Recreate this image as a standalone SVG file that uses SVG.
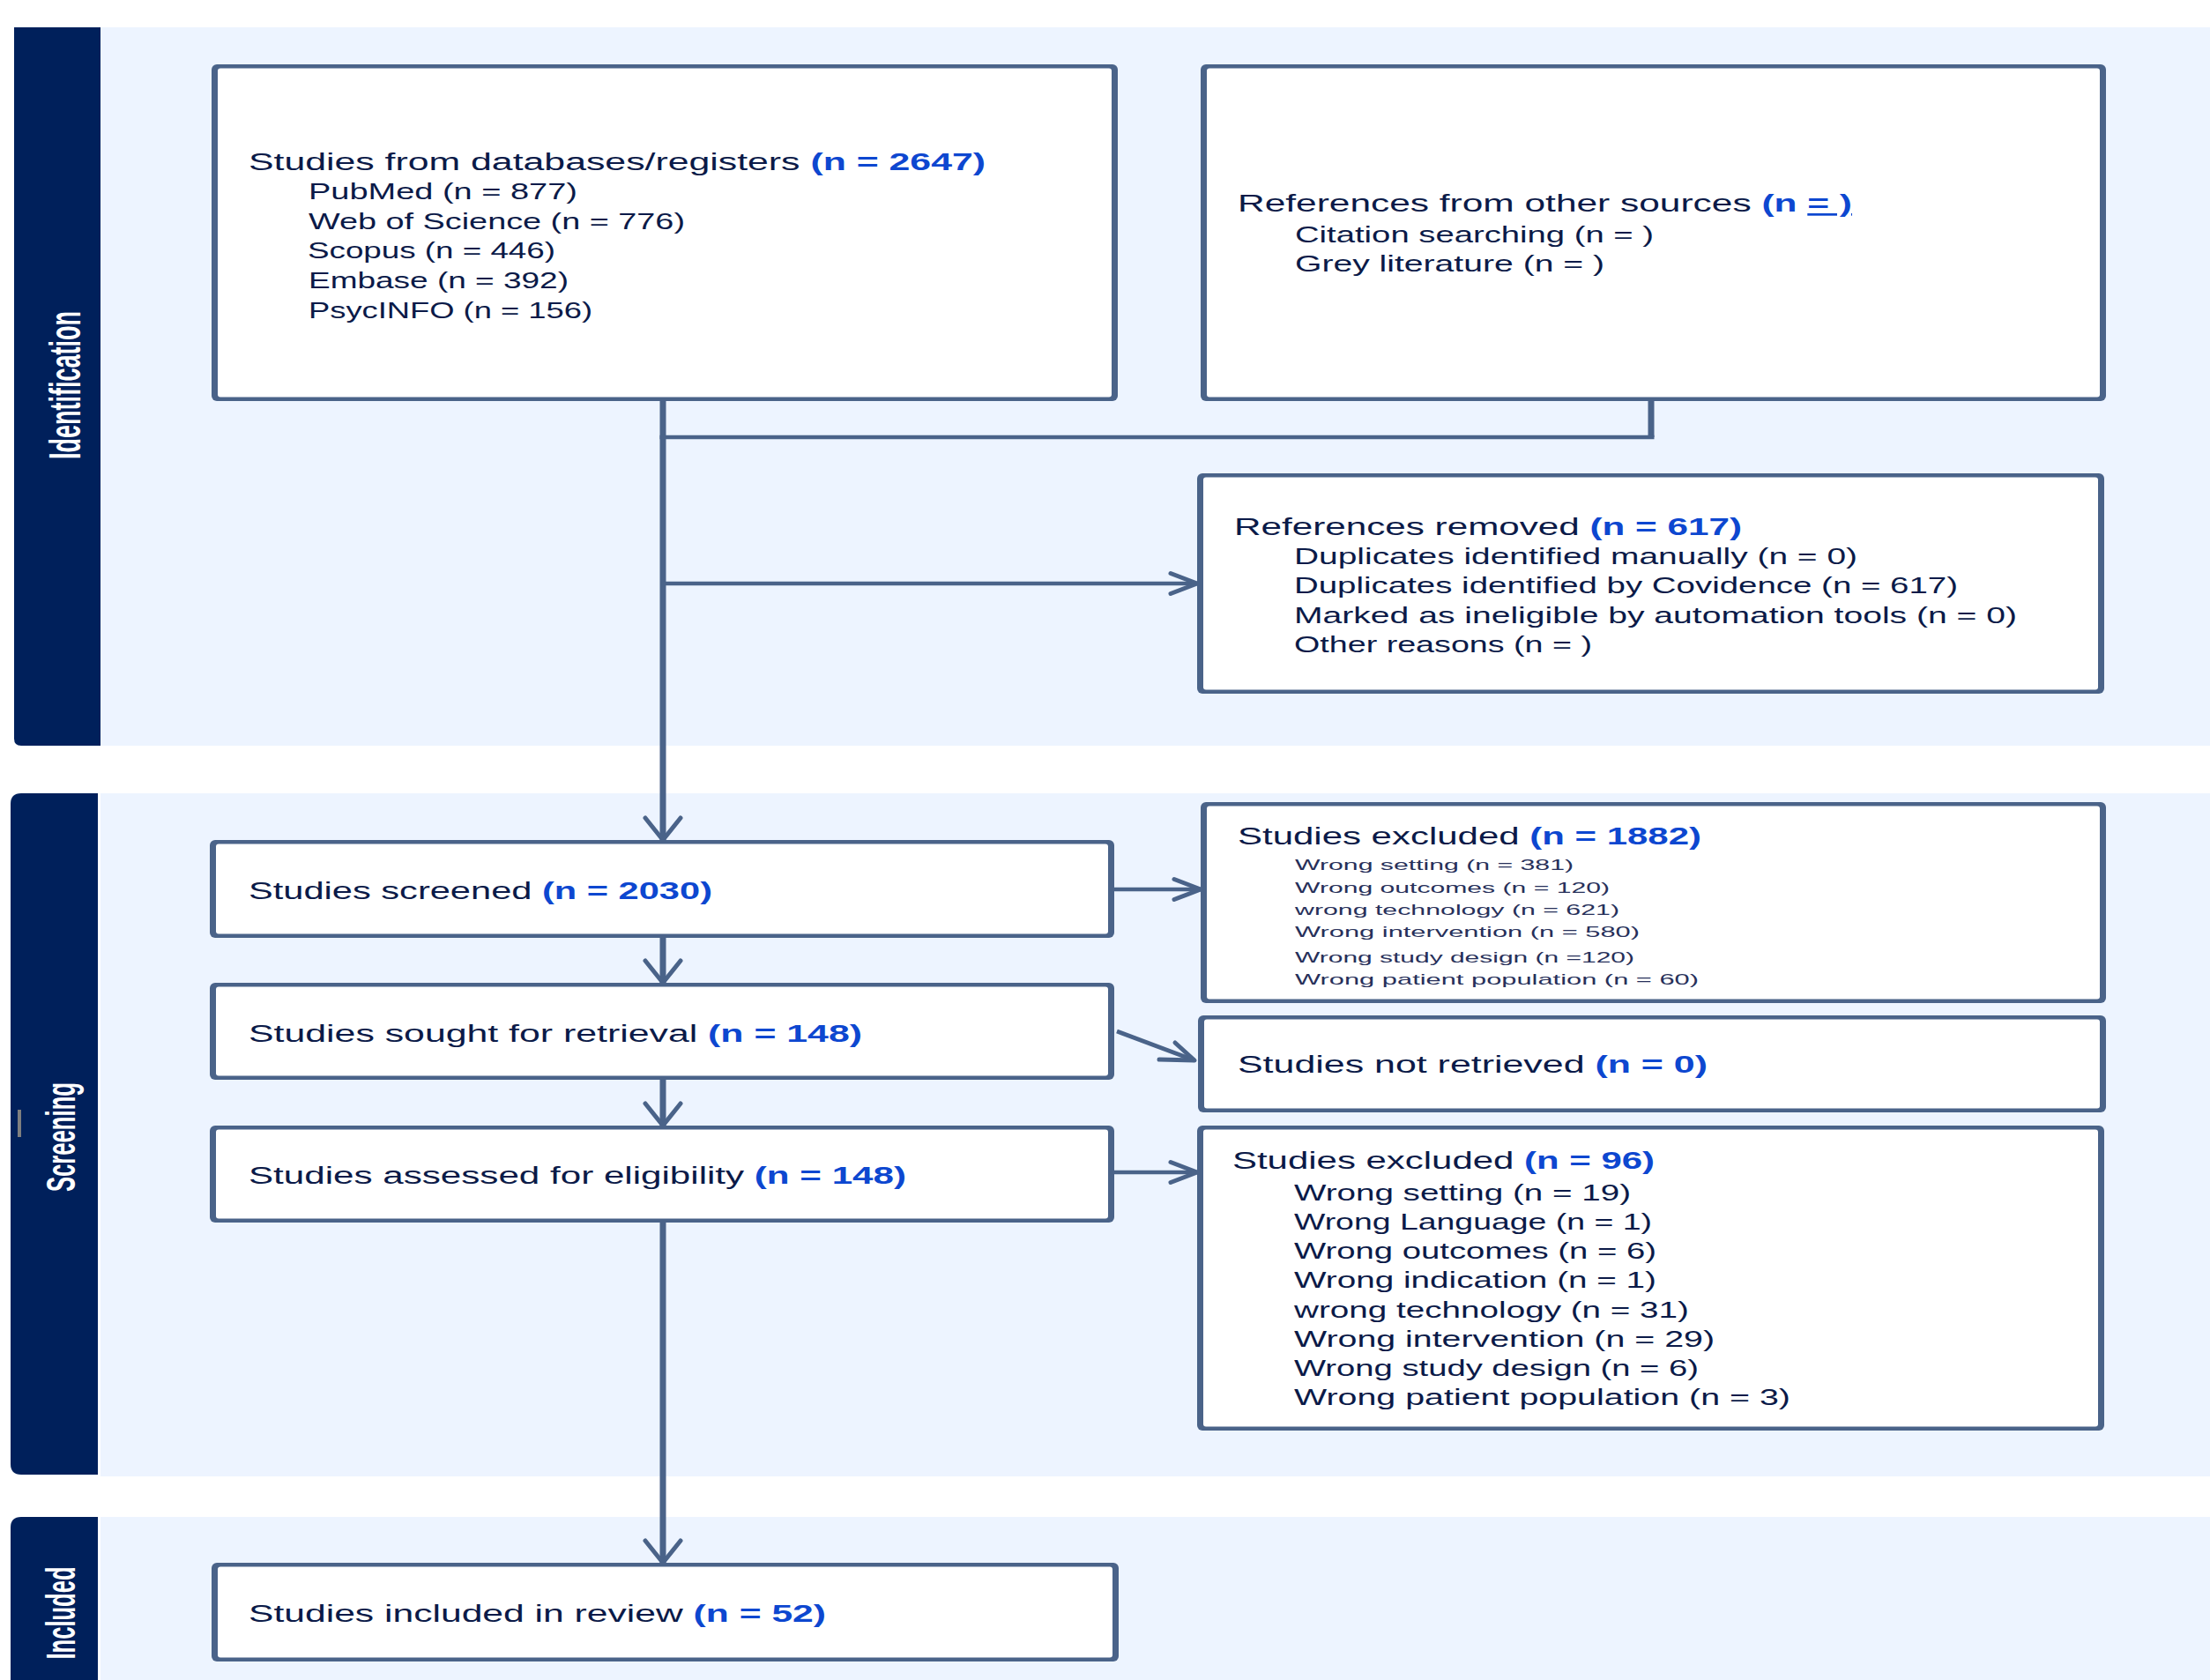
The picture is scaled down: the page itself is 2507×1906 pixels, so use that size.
<svg xmlns="http://www.w3.org/2000/svg" width="2507" height="1906" viewBox="0 0 2507 1906">
<defs>
<style>
.band{fill:#edf4ff}
.bar{fill:#00205b}
.lab{font-family:"Liberation Sans",Arial,sans-serif;font-weight:bold;fill:#ffffff;text-anchor:middle}
.bo{fill:#4a6389}
.bi{fill:#ffffff}
.t{font-family:"Liberation Sans",Arial,sans-serif;fill:#0b1a48}
.t1{font-size:27px}
.t2{font-size:26px}
.t3{font-size:17px;fill:#27305a}
.n{fill:#0d47d0;font-weight:bold}
.ln{stroke:#4a6389;fill:none;stroke-linecap:butt}
.v{stroke-width:7}
.h{stroke-width:4.7}
.ah{stroke:#4a6389;fill:none;stroke-width:5;stroke-linejoin:round;stroke-linecap:round}
</style>
<marker id="aV" markerUnits="userSpaceOnUse" viewBox="-30 -25 35 50" markerWidth="35" markerHeight="50" refX="0" refY="0" orient="auto" overflow="visible"><path class="ah" d="M-25,-20 L0,0 L-25,20"/></marker>
<marker id="aH" markerUnits="userSpaceOnUse" viewBox="-35 -16 40 32" markerWidth="40" markerHeight="32" refX="0" refY="0" orient="auto" overflow="visible"><path class="ah" d="M-30,-11.5 L0,0 L-30,11.5"/></marker>
</defs>
<rect width="2507" height="1906" fill="#ffffff"/>

<g id="bands">
<rect class="band" x="114" y="31" width="2393" height="815"/>
<path class="bar" d="M16,31 H114 V846 H24 Q16,846 16,838 Z"/>
<text class="lab" font-size="50" textLength="168" lengthAdjust="spacingAndGlyphs" transform="translate(91,437) rotate(-90)">Identification</text>
<rect class="band" x="114" y="900" width="2393" height="775"/>
<path class="bar" d="M24,900 H111 V1673 H24 Q12,1673 12,1661 V912 Q12,900 24,900 Z"/>
<text class="lab" font-size="46" textLength="124" lengthAdjust="spacingAndGlyphs" transform="translate(85,1290) rotate(-90)">Screening</text>
<rect x="20" y="1259" width="4" height="31" fill="#7f7f7f"/>
<rect class="band" x="114" y="1721" width="2393" height="185"/>
<path class="bar" d="M24,1721 H111 V1906 H12 V1733 Q12,1721 24,1721 Z"/>
<text class="lab" font-size="46" textLength="105" lengthAdjust="spacingAndGlyphs" transform="translate(85,1830) rotate(-90)">Included</text>
</g>

<g id="connectors">
<path class="ln v" d="M752,455 V953" marker-end="url(#aV)"/>
<path class="ln v" d="M1873,455 V496"/>
<path class="ln h" d="M748.5,496 H1876.5"/>
<path class="ln h" d="M752,662 H1358" marker-end="url(#aH)"/>
<path class="ln h" d="M1264,1009 H1362" marker-end="url(#aH)"/>
<path class="ln h" d="M1267,1170 L1355,1203"/>
<polyline class="ah" points="1333,1183 1355,1203 1315,1202"/>
<path class="ln h" d="M1264,1330 H1358" marker-end="url(#aH)"/>
<path class="ln v" d="M752,1064 V1115" marker-end="url(#aV)"/>
<path class="ln v" d="M752,1225 V1277" marker-end="url(#aV)"/>
<path class="ln v" d="M752,1387 V1773" marker-end="url(#aV)"/>
</g>

<g id="node-databases">
<rect class="bo" x="240" y="73" width="1028" height="382" rx="6"/>
<rect class="bi" x="247" y="77.5" width="1014" height="373" rx="3"/>
<text class="t t1" x="282" y="193" textLength="836" lengthAdjust="spacingAndGlyphs">Studies from databases/registers <tspan class="n">(n = 2647)</tspan></text>
<text class="t t2" x="350" y="226" textLength="305" lengthAdjust="spacingAndGlyphs">PubMed (n = 877)</text>
<text class="t t2" x="350" y="260" textLength="427" lengthAdjust="spacingAndGlyphs">Web of Science (n = 776)</text>
<text class="t t2" x="349" y="293" textLength="281" lengthAdjust="spacingAndGlyphs">Scopus (n = 446)</text>
<text class="t t2" x="350" y="327" textLength="295" lengthAdjust="spacingAndGlyphs">Embase (n = 392)</text>
<text class="t t2" x="350" y="361" textLength="322" lengthAdjust="spacingAndGlyphs">PsycINFO (n = 156)</text>
</g>

<g id="node-other-sources">
<rect class="bo" x="1362" y="73" width="1027" height="382" rx="6"/>
<rect class="bi" x="1369" y="77.5" width="1013" height="373" rx="3"/>
<text class="t t1" x="1404" y="240" textLength="697" lengthAdjust="spacingAndGlyphs">References from other sources <tspan class="n">(n <tspan text-decoration="underline">= )</tspan></tspan></text>
<text class="t t2" x="1469" y="275" textLength="407" lengthAdjust="spacingAndGlyphs">Citation searching (n = )</text>
<text class="t t2" x="1469" y="308" textLength="351" lengthAdjust="spacingAndGlyphs">Grey literature (n = )</text>
</g>

<g id="node-removed">
<rect class="bo" x="1358" y="537" width="1029" height="250" rx="6"/>
<rect class="bi" x="1365" y="541.5" width="1015" height="241" rx="3"/>
<text class="t t1" x="1400" y="607" textLength="576" lengthAdjust="spacingAndGlyphs">References removed <tspan class="n">(n = 617)</tspan></text>
<text class="t t2" x="1468" y="640" textLength="639" lengthAdjust="spacingAndGlyphs">Duplicates identified manually (n = 0)</text>
<text class="t t2" x="1468" y="673" textLength="753" lengthAdjust="spacingAndGlyphs">Duplicates identified by Covidence (n = 617)</text>
<text class="t t2" x="1468" y="707" textLength="820" lengthAdjust="spacingAndGlyphs">Marked as ineligible by automation tools (n = 0)</text>
<text class="t t2" x="1468" y="740" textLength="338" lengthAdjust="spacingAndGlyphs">Other reasons (n = )</text>
</g>

<g id="node-screened">
<rect class="bo" x="238" y="953" width="1026" height="111" rx="6"/>
<rect class="bi" x="245" y="957.5" width="1012" height="102" rx="3"/>
<text class="t t1" x="282" y="1020" textLength="526" lengthAdjust="spacingAndGlyphs">Studies screened <tspan class="n">(n = 2030)</tspan></text>
</g>

<g id="node-excluded-1882">
<rect class="bo" x="1362" y="910" width="1027" height="228" rx="6"/>
<rect class="bi" x="1369" y="914.5" width="1013" height="219" rx="3"/>
<text class="t t1" x="1404" y="958" textLength="526" lengthAdjust="spacingAndGlyphs">Studies excluded <tspan class="n">(n = 1882)</tspan></text>
<text class="t t3" x="1469" y="987" textLength="316" lengthAdjust="spacingAndGlyphs">Wrong setting (n = 381)</text>
<text class="t t3" x="1469" y="1013" textLength="357" lengthAdjust="spacingAndGlyphs">Wrong outcomes (n = 120)</text>
<text class="t t3" x="1469" y="1038" textLength="368" lengthAdjust="spacingAndGlyphs">wrong technology (n = 621)</text>
<text class="t t3" x="1469" y="1063" textLength="391" lengthAdjust="spacingAndGlyphs">Wrong intervention (n = 580)</text>
<text class="t t3" x="1469" y="1092" textLength="385" lengthAdjust="spacingAndGlyphs">Wrong study design (n =120)</text>
<text class="t t3" x="1469" y="1117" textLength="458" lengthAdjust="spacingAndGlyphs">Wrong patient population (n = 60)</text>
</g>

<g id="node-sought">
<rect class="bo" x="238" y="1115" width="1026" height="110" rx="6"/>
<rect class="bi" x="245" y="1119.5" width="1012" height="101" rx="3"/>
<text class="t t1" x="282" y="1182" textLength="696" lengthAdjust="spacingAndGlyphs">Studies sought for retrieval <tspan class="n">(n = 148)</tspan></text>
</g>

<g id="node-not-retrieved">
<rect class="bo" x="1359" y="1152" width="1030" height="110" rx="6"/>
<rect class="bi" x="1366" y="1156.5" width="1016" height="101" rx="3"/>
<text class="t t1" x="1404" y="1217" textLength="533" lengthAdjust="spacingAndGlyphs">Studies not retrieved <tspan class="n">(n = 0)</tspan></text>
</g>

<g id="node-assessed">
<rect class="bo" x="238" y="1277" width="1026" height="110" rx="6"/>
<rect class="bi" x="245" y="1281.5" width="1012" height="101" rx="3"/>
<text class="t t1" x="282" y="1343" textLength="746" lengthAdjust="spacingAndGlyphs">Studies assessed for eligibility <tspan class="n">(n = 148)</tspan></text>
</g>

<g id="node-excluded-96">
<rect class="bo" x="1358" y="1277" width="1029" height="346" rx="6"/>
<rect class="bi" x="1365" y="1281.5" width="1015" height="337" rx="3"/>
<text class="t t1" x="1398" y="1326" textLength="479" lengthAdjust="spacingAndGlyphs">Studies excluded <tspan class="n">(n = 96)</tspan></text>
<text class="t t2" x="1468" y="1362" textLength="382" lengthAdjust="spacingAndGlyphs">Wrong setting (n = 19)</text>
<text class="t t2" x="1468" y="1395" textLength="406" lengthAdjust="spacingAndGlyphs">Wrong Language (n = 1)</text>
<text class="t t2" x="1468" y="1428" textLength="411" lengthAdjust="spacingAndGlyphs">Wrong outcomes (n = 6)</text>
<text class="t t2" x="1468" y="1461" textLength="411" lengthAdjust="spacingAndGlyphs">Wrong indication (n = 1)</text>
<text class="t t2" x="1468" y="1495" textLength="448" lengthAdjust="spacingAndGlyphs">wrong technology (n = 31)</text>
<text class="t t2" x="1468" y="1528" textLength="477" lengthAdjust="spacingAndGlyphs">Wrong intervention (n = 29)</text>
<text class="t t2" x="1468" y="1561" textLength="459" lengthAdjust="spacingAndGlyphs">Wrong study design (n = 6)</text>
<text class="t t2" x="1468" y="1594" textLength="563" lengthAdjust="spacingAndGlyphs">Wrong patient population (n = 3)</text>
</g>

<g id="node-included">
<rect class="bo" x="240" y="1773" width="1029" height="112" rx="6"/>
<rect class="bi" x="247" y="1777.5" width="1015" height="103" rx="3"/>
<text class="t t1" x="282" y="1840" textLength="655" lengthAdjust="spacingAndGlyphs">Studies included in review <tspan class="n">(n = 52)</tspan></text>
</g>
</svg>
